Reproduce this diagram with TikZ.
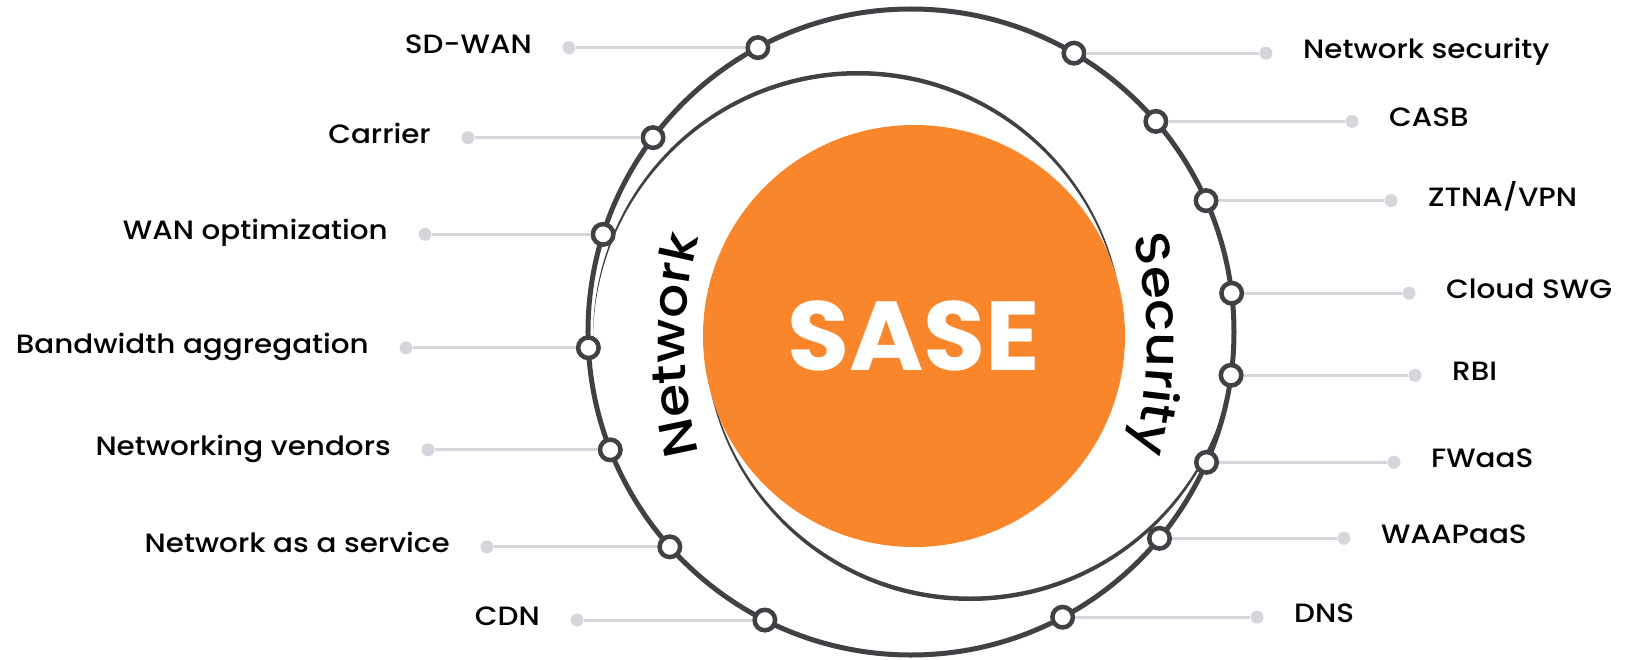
\documentclass[tikz,border=0pt]{standalone}
\usepackage{fontspec}
\setmainfont{Poppins}
\newfontfamily\medfont{Poppins Medium}[FakeStretch=1.11]
\newfontfamily\boldwide{Poppins Bold}[FakeStretch=1.03]
\usetikzlibrary{calc,decorations.text}

\definecolor{ring}{HTML}{404145}
\definecolor{sase}{HTML}{F9862B}
\definecolor{leader}{HTML}{D4D6DC}

\begin{document}
\begin{tikzpicture}[x=1pt,y=1pt,
  hub/.style={circle, draw=ring, line width=4.5pt, fill=white,
              minimum size=20.5pt, inner sep=0pt},
  tip/.style={circle, fill=leader, minimum size=13pt, inner sep=0pt},
  leaderline/.style={draw=leader, line width=3pt},
  lbl/.style={inner sep=0pt, font=\fontsize{26.5}{30}\selectfont\medfont, text=black}]

\useasboundingbox (-911,-327) rectangle (714,332);

% thin crescents behind the core
\fill[ring] (-53,-4) ++(0:265) arc[start angle=0, end angle=180, radius=265]
  -- ++(0,-4.5) arc[start angle=180, end angle=0, radius=265] -- cycle;
\fill[ring] (59,-4) ++(180:265) arc[start angle=180, end angle=360, radius=265]
  -- ++(0,4.5) arc[start angle=360, end angle=180, radius=265] -- cycle;

% orange core
\node[circle, fill=sase, minimum size=422pt, inner sep=0pt,
      font=\fontsize{98}{98}\selectfont\boldwide, text=white] (core) at (3,-4) {SASE};

% outer ring
\node[circle, draw=ring, line width=5pt, minimum size=646pt, inner sep=0pt] (ring) at (0,0) {};

% curved captions
\path[decorate, decoration={text along path, text align=center,
      text={|\fontsize{48}{48}\selectfont\medfont|Network}}]
  (211,-13) ++(200:437) arc[start angle=200, end angle=160, radius=437];
\path[decorate, decoration={text along path, text align=center,
      text={|\fontsize{48}{48}\selectfont\medfont|Security}}]
  (-201,-12) ++(20:437) arc[start angle=20, end angle=-20, radius=437];

% network side: hub angle / name / leader end x / label
\foreach \a/\n/\x/\t in {118.3/l1/-342/SD-WAN, 143.0/l2/-443/Carrier,
    162.4/l3/-486/WAN optimization, 182.8/l4/-505/Bandwidth aggregation,
    201.4/l5/-483/Networking vendors, 221.7/l6/-424/Network as a service,
    243.1/l7/-334/CDN}{
  \node[hub] (h\n) at (\a:323) {};
  \node[tip] (d\n) at (h\n -| \x,0) {};
  \draw[leaderline] (d\n) -- (h\n);
  \node[lbl, anchor=base east] (t\n) at ($(d\n)+(-37,-5.5)$) {\t};
}

% security side
\foreach \a/\n/\x/\t in {59.7/r1/355/Network security, 40.7/r2/441/CASB,
    24.0/r3/480/{ZTNA/VPN}, 6.9/r4/498/Cloud SWG, -7.7/r5/504/RBI,
    -23.8/r6/483/FWaaS, -39.7/r7/433/WAAPaaS, -62.0/r8/346/DNS}{
  \node[hub] (h\n) at (\a:323) {};
  \node[tip] (d\n) at (h\n -| \x,0) {};
  \draw[leaderline] (d\n) -- (h\n);
  \node[lbl, anchor=base west] (t\n) at ($(d\n)+(37,-5.5)$) {\t};
}
\end{tikzpicture}
\end{document}
